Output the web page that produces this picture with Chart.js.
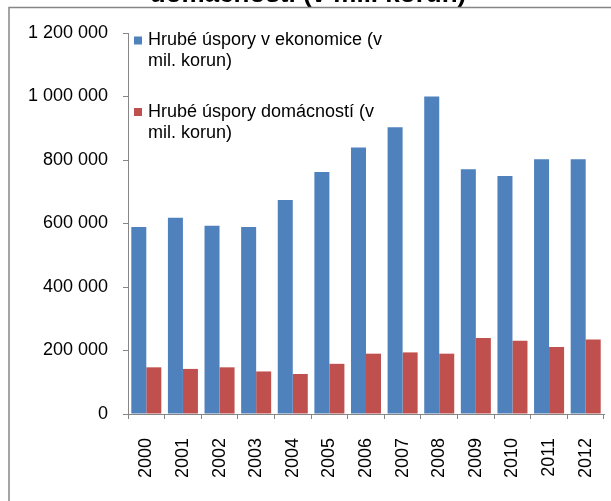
<!DOCTYPE html>
<html>
<head>
<meta charset="utf-8">
<script src="https://cdn.jsdelivr.net/npm/chart.js@4"></script>
<style>
  html, body { margin: 0; padding: 0; background: #fff; }
  canvas { display: block; }
</style>
</head>
<body>
<canvas id="chart" width="611" height="501"></canvas>
<script>
// data
const years = ['2000', '2001', '2002', '2003', '2004', '2005', '2006', '2007', '2008', '2009', '2010', '2011', '2012'];
const economySavings = [589000, 618000, 593000, 589000, 674000, 762000, 839000, 903000, 1000000, 771000, 750000, 802000, 802000];
const householdSavings = [147000, 142000, 147000, 134000, 126000, 158000, 190000, 194000, 190000, 239000, 231000, 211000, 235000];
const seriesNames = ['Hrubé úspory v ekonomice (v mil. korun)', 'Hrubé úspory domácností (v mil. korun)'];
const yTicks = [0, 200000, 400000, 600000, 800000, 1000000, 1200000];
const titleLines = ['Hrubé úspory v ekonomice a hrubé úspory', 'domácností (v mil. korun)'];

const FONT = '"Liberation Sans", Arial, sans-serif';
const GREY = '#868686';

// frame, cut-off title and the in-plot legend, Excel style
const excelDecor = {
  id: 'excelDecor',
  beforeDraw(chart) {
    const ctx = chart.ctx;
    ctx.save();
    ctx.fillStyle = '#000';
    ctx.font = 'bold 26px ' + FONT;
    ctx.textAlign = 'center';
    ctx.textBaseline = 'alphabetic';
    titleLines.forEach((t, i) => {
      ctx.fillText(t, 308, 2 - (titleLines.length - 1 - i) * 30);
    });
    ctx.strokeStyle = GREY;
    ctx.lineWidth = 1.5;
    ctx.beginPath();
    ctx.moveTo(9, chart.height + 2);
    ctx.lineTo(9, 7.5);
    ctx.lineTo(chart.width + 2, 7.5);
    ctx.stroke();
    ctx.restore();
  },
  afterDraw(chart) {
    const ctx = chart.ctx;
    ctx.save();
    ctx.font = '18px ' + FONT;
    ctx.textBaseline = 'middle';
    ctx.textAlign = 'left';
    const tops = [40.5, 112];
    chart.data.datasets.forEach((ds, i) => {
      // wrap the label like Excel does
      const words = ds.label.split(' ');
      const lines = [];
      let cur = '';
      words.forEach(w => {
        const test = cur ? cur + ' ' + w : w;
        if (cur && ctx.measureText(test).width > 240) {
          lines.push(cur);
          cur = w;
        } else {
          cur = test;
        }
      });
      lines.push(cur);
      ctx.fillStyle = ds.backgroundColor;
      ctx.fillRect(134, tops[i] - 4, 8, 8);
      ctx.fillStyle = '#000';
      lines.forEach((l, j) => ctx.fillText(l, 148, tops[i] + j * 21));
    });
    ctx.restore();
  }
};

new Chart(document.getElementById('chart'), {
  type: 'bar',
  data: {
    labels: years,
    datasets: [
      { label: seriesNames[0], data: economySavings, backgroundColor: '#4F81BD' },
      { label: seriesNames[1], data: householdSavings, backgroundColor: '#C0504D' }
    ]
  },
  options: {
    responsive: false,
    animation: false,
    layout: { padding: { left: 0, top: 33, right: 7, bottom: 0 } },
    datasets: { bar: { categoryPercentage: 0.82, barPercentage: 1.0 } },
    plugins: {
      legend: { display: false },
      title: { display: false },
      tooltip: { enabled: false }
    },
    scales: {
      x: {
        grid: { display: true, drawOnChartArea: false, offset: true, tickLength: 5, color: GREY },
        border: { color: GREY },
        ticks: { minRotation: 90, maxRotation: 90, padding: 19, color: '#000', font: { family: FONT, size: 18 } },
        afterFit: s => {
          s.height = 87;
          s.paddingLeft = 0;
          s.paddingRight = 0;
        }
      },
      y: {
        min: 0,
        max: 1200000,
        afterBuildTicks: s => { s.ticks = yTicks.map(v => ({ value: v })); },
        grid: { drawOnChartArea: false, tickLength: 5, color: GREY },
        border: { color: GREY },
        ticks: {
          padding: 15,
          color: '#000',
          font: { family: FONT, size: 18 },
          callback: v => String(v).replace(/\B(?=(\d{3})+(?!\d))/g, ' ')
        },
        afterFit: s => {
          s.width = 128;
          s.paddingTop = 0;
          s.paddingBottom = 0;
        }
      }
    }
  },
  plugins: [excelDecor]
});
</script>
</body>
</html>
